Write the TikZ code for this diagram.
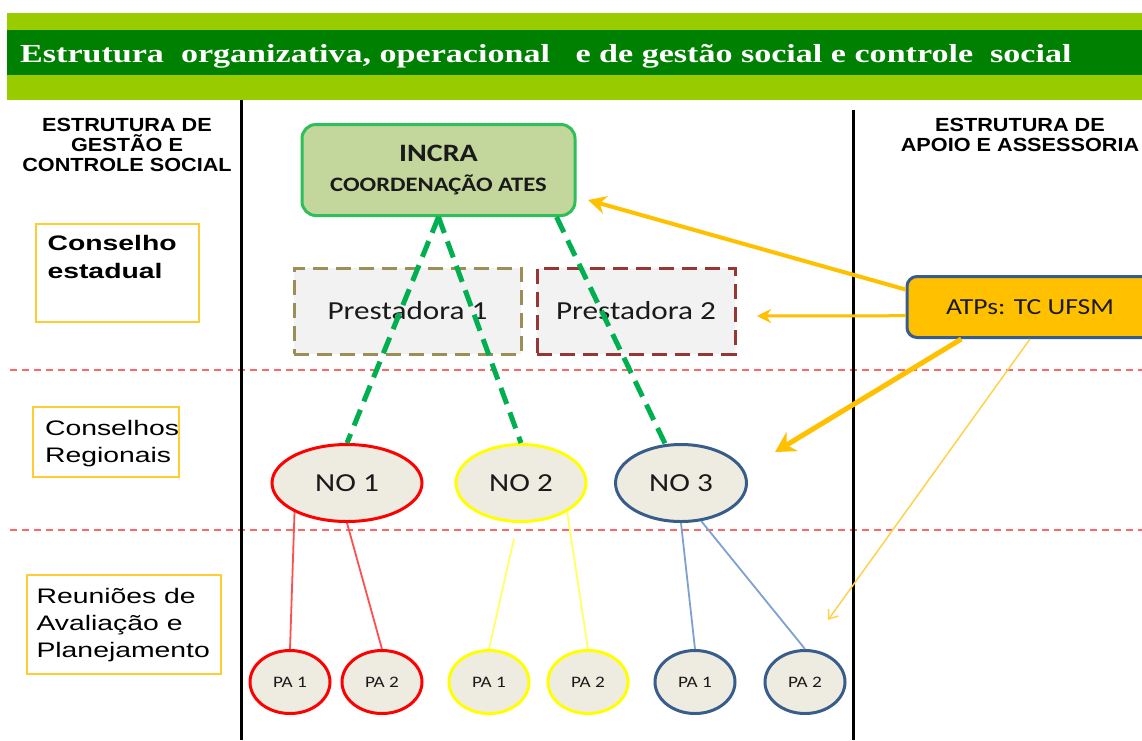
\documentclass[tikz,border=0pt]{standalone}
\usepackage{fontspec}
\setmainfont{Liberation Sans}
\newfontfamily\ttlfont[FakeStretch=1.31]{Liberation Serif}
\newfontfamily\hdrfont[FakeStretch=1.14]{Liberation Sans}
\newfontfamily\lblfont[FakeStretch=1.35]{Liberation Sans}
\newfontfamily\calfont[FakeStretch=1.2]{Carlito}
\usetikzlibrary{calc, arrows.meta, shapes.geometric, positioning}
\definecolor{cband}{HTML}{99CC00}
\definecolor{cdkgreen}{HTML}{008000}
\definecolor{cgold}{HTML}{FFCC33}
\definecolor{corange}{HTML}{FFC000}
\definecolor{clorange}{HTML}{FFD24D}
\definecolor{cincra}{HTML}{C3D69B}
\definecolor{cincrab}{HTML}{2EBF5B}
\definecolor{cgreen}{HTML}{00B050}
\definecolor{cgrayf}{HTML}{F2F2F2}
\definecolor{colive}{HTML}{9C8F56}
\definecolor{cmaroon}{HTML}{953735}
\definecolor{cbeige}{HTML}{EEECE1}
\definecolor{cnavy}{HTML}{385D8A}
\definecolor{clblue}{HTML}{7EA1CF}
\definecolor{cred}{HTML}{FF0000}
\definecolor{clred}{HTML}{FF5050}
\definecolor{cyel}{HTML}{FFFF00}
\definecolor{clyel}{HTML}{FFFF66}
\definecolor{cpink}{HTML}{FF6666}
\definecolor{cbk}{HTML}{1A1A1A}
\tikzset{
    lbox/.style={rectangle, draw=cgold, line width=2pt},
    lbl/.style={anchor=north west, align=left, text=black, font=\lblfont\fontsize{21}{27}\selectfont},
    hdr/.style={align=center, text=black, font=\hdrfont\bfseries\fontsize{19}{20}\selectfont},
    prest/.style={rectangle, fill=cgrayf, line width=3pt, dash pattern=on 15pt off 8pt, minimum height=86pt, text=cbk, font=\calfont\fontsize{26}{30}\selectfont},
    nobox/.style={ellipse, fill=cbeige, line width=3pt, minimum height=77pt, inner sep=0pt, text=cbk, font=\calfont\fontsize{26}{30}\selectfont},
    link/.style={cgreen, line width=5pt, dash pattern=on 17pt off 9pt},
    tie/.style={line width=1.8pt},
    sep/.style={cpink, line width=1.5pt, dash pattern=on 7pt off 5pt},
    supp/.style={corange}
}
\begin{document}
\begin{tikzpicture}[x=1pt, y=-1pt]
    \useasboundingbox (0,0) rectangle (1142,740);
    \fill[white] (0,0) rectangle (1142,740);
    % title band
    \fill[cband] (7,13) rectangle (1142,100);
    \fill[cdkgreen] (7,30) rectangle (1142,75);
    \node (ttl) [anchor=base west, inner sep=0pt, text=white, font=\ttlfont\bfseries\fontsize{26}{30}\selectfont] at (20,62) {Estrutura\ \ organizativa, operacional\ \ \ e de gestão social e controle\ \ social};
    % level separators and columns
    \foreach \y in {370,530} \draw[sep] (10,\y) -- (1142,\y);
    \draw[black, line width=3pt] (241,100) -- (241,740);
    \draw[black, line width=3pt] (853,110) -- (853,740);
    \node (hl) [hdr] at (127,145) {ESTRUTURA DE\\GESTÃO E\\CONTROLE SOCIAL};
    \node (hr) [hdr] at (1020,135) {ESTRUTURA DE\\APOIO E ASSESSORIA};
    % left column
    \node (cest) [lbox, minimum width=163pt, minimum height=98pt] at (117.5,273) {};
    \node [lbl, font=\lblfont\bfseries\fontsize{21}{28}\selectfont] at ([shift={(9,9)}]cest.north west) {Conselho\\estadual};
    \node (creg) [lbox, minimum width=146pt, minimum height=70pt] at (106,442) {};
    \node [lbl] at ([shift={(9.5,10.5)}]creg.north west) {Conselhos\\Regionais};
    \node (creu) [lbox, minimum width=194pt, minimum height=99pt] at (124,624.5) {};
    \node [lbl] at ([shift={(7,10.5)}]creu.north west) {Reuniões de\\Avaliação e\\Planejamento};
    % central structure
    \node (incra) [rectangle, rounded corners=14pt, draw=cincrab, fill=cincra, line width=3pt, minimum width=273pt, minimum height=91pt, align=center, text=cbk, font=\calfont\bfseries] at (438.5,170) {{\fontsize{25}{29}\selectfont INCRA}\\[12pt]{\fontsize{20.5}{22}\selectfont COORDENAÇÃO ATES}};
    \node (pr1) [prest, draw=colive, minimum width=227pt] at (407.5,311) {Prestadora 1};
    \node (pr2) [prest, draw=cmaroon, minimum width=198pt] at (636,311) {Prestadora 2};
    \node (no1) [nobox, draw=cred, minimum width=150pt] at (347,483) {NO 1};
    \node (no2) [nobox, draw=cyel, minimum width=130pt] at (521,483) {NO 2};
    \node (no3) [nobox, draw=cnavy, minimum width=131pt] at (681,483) {NO 3};
    \draw[link] (incra.south) -- (no1.north);
    \draw[link] (incra.south) -- (no2.north);
    \draw[link] ([xshift=-20pt]incra.south east) -- (no3.112);
    \begin{scope}[every node/.style={ellipse, fill=cbeige, line width=3pt, minimum width=80pt, minimum height=63pt, inner sep=0pt, text=cbk, font=\calfont\fontsize{16}{19}\selectfont}]
        \node (pa11) [draw=cred] at (290,682) {PA 1};
        \node (pa12) [draw=cred] at (382,682) {PA 2};
        \node (pa21) [draw=cyel] at (489,682) {PA 1};
        \node (pa22) [draw=cyel] at (588,682) {PA 2};
        \node (pa31) [draw=cnavy] at (695,682) {PA 1};
        \node (pa32) [draw=cnavy] at (805,682) {PA 2};
    \end{scope}
    \draw[tie, clred] (no1.209) -- (pa11.north);
    \draw[tie, clred] (no1.south) -- (pa12.north);
    \draw[tie, clyel, shorten <=16pt] (no2.265) -- (pa21.north);
    \draw[tie, clyel] (no2.-32) -- (pa22.north);
    \draw[tie, clblue] (no3.south) -- (pa31.north);
    \draw[tie, clblue] (no3.-62) -- (pa32.north);
    % support structure
    \node (atp) [rectangle, rounded corners=10pt, draw=cnavy, fill=corange, line width=3pt, minimum width=246pt, minimum height=61pt, text=cbk, font=\calfont\fontsize{23}{27}\selectfont] at (1030,307) {ATPs: TC UFSM};
    \coordinate (tipI) at (588,200);
    \coordinate (tipP) at (757,316);
    \coordinate (tipN) at (775,452);
    \coordinate (tipA) at (828,620);
    \draw[supp, line width=4pt, -{Stealth[length=18pt, width=18pt]}] (atp.172) -- (tipI);
    \draw[supp, line width=3pt, -{Stealth[length=14pt, width=14pt]}] (atp.184) -- (tipP);
    \draw[supp, line width=5pt, -{Stealth[length=20pt, width=22pt]}] (atp.205) -- (tipN);
    \draw[clorange, line width=1.5pt, -{Straight Barb[length=8pt, width=12pt]}] (atp.south) -- (tipA);
\end{tikzpicture}
\end{document}
